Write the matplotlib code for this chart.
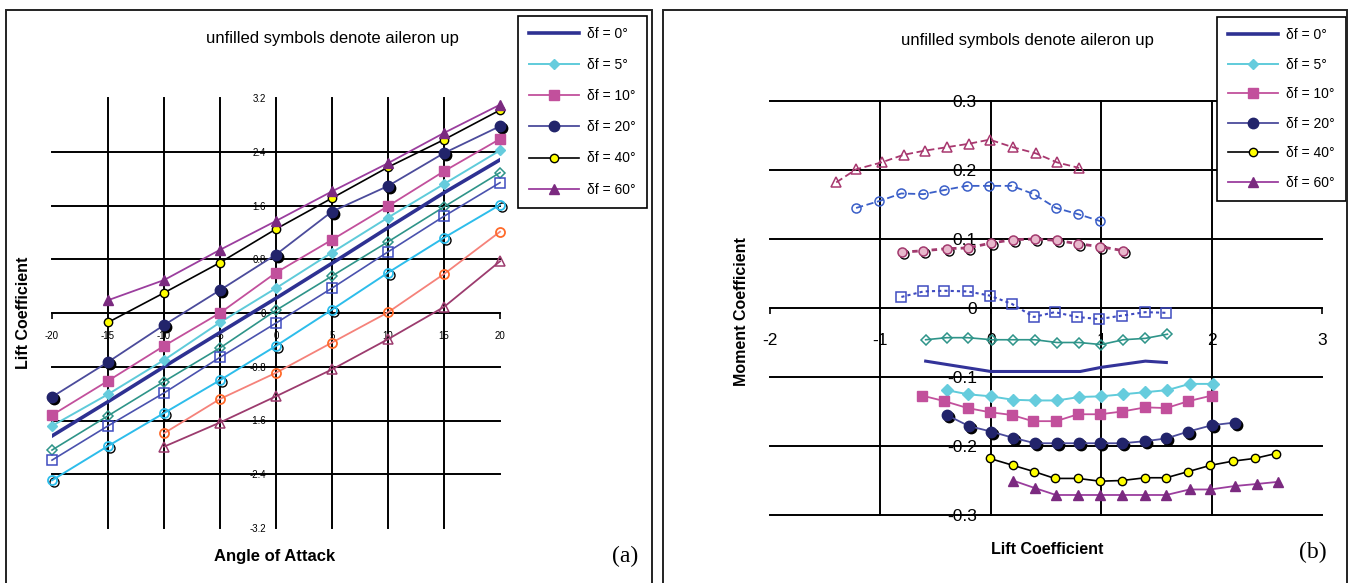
import matplotlib
matplotlib.use("Agg")
import matplotlib.pyplot as plt
from matplotlib.patches import Rectangle
from matplotlib.transforms import offset_copy

plt.rcParams['font.family'] = ['Liberation Sans', 'DejaVu Sans']

# ---------------- data, panel (a): lift coefficient vs angle of attack
alpha = [-20, -15, -10, -5, 0, 5, 10, 15, 20]
alpha_40 = [-15, -10, -5, 0, 5, 10, 15, 20]
alpha_up40 = [-10, -5, 0, 5, 10, 15, 20]

cl_0 = [-1.83, -1.32, -0.80, -0.29, 0.22, 0.74, 1.27, 1.79, 2.28]
cl_5 = [-1.68, -1.21, -0.70, -0.14, 0.37, 0.90, 1.42, 1.92, 2.42]
cl_10 = [-1.52, -1.01, -0.49, 0.00, 0.60, 1.09, 1.59, 2.11, 2.59]
cl_20 = [-1.25, -0.73, -0.18, 0.34, 0.87, 1.51, 1.89, 2.38, 2.78]
cl_40 = [-0.14, 0.30, 0.75, 1.25, 1.71, 2.17, 2.58, 3.02]
cl_60 = [0.19, 0.49, 0.94, 1.37, 1.81, 2.23, 2.68, 3.10]
# aileron up (unfilled)
cl_5u = [-2.04, -1.53, -1.02, -0.52, 0.04, 0.55, 1.06, 1.58, 2.09]
cl_10u = [-2.19, -1.68, -1.19, -0.66, -0.15, 0.37, 0.91, 1.44, 1.94]
cl_20u = [-2.49, -1.98, -1.49, -1.00, -0.49, 0.05, 0.60, 1.12, 1.61]
cl_40u = [-1.79, -1.28, -0.89, -0.44, 0.01, 0.58, 1.21]
cl_60u = [-1.99, -1.63, -1.24, -0.84, -0.39, 0.09, 0.77]

a_xticks = [-20, -15, -10, -5, 0, 5, 10, 15, 20]
a_yticks = [3.2, 2.4, 1.6, 0.8, 0, -0.8, -1.6, -2.4, -3.2]
a_ylabels = ['3.2', '2.4', '1.6', '0.8', '0', '-0.8', '-1.6', '-2.4', '-3.2']

# ---------------- data, panel (b): moment coefficient vs lift coefficient
b0_cl = [-0.59, 0.00, 0.81, 1.00, 1.40, 1.59]
b0_cm = [-0.077, -0.092, -0.092, -0.086, -0.077, -0.079]
b5_cl = [-0.40, -0.21, 0.00, 0.20, 0.40, 0.60, 0.80, 1.00, 1.20, 1.40, 1.60, 1.80, 2.01]
b5_cm = [-0.119, -0.125, -0.128, -0.133, -0.134, -0.134, -0.129, -0.128, -0.125, -0.122, -0.119, -0.110, -0.110]
b10_cl = [-0.62, -0.42, -0.21, -0.01, 0.19, 0.38, 0.59, 0.79, 0.99, 1.19, 1.40, 1.59, 1.79, 2.00]
b10_cm = [-0.127, -0.135, -0.145, -0.151, -0.155, -0.164, -0.164, -0.154, -0.154, -0.150, -0.144, -0.145, -0.135, -0.127]
b20_cl = [-0.40, -0.20, 0.00, 0.20, 0.40, 0.60, 0.80, 0.99, 1.19, 1.40, 1.59, 1.79, 2.00, 2.21]
b20_cm = [-0.155, -0.171, -0.179, -0.188, -0.196, -0.196, -0.196, -0.196, -0.196, -0.193, -0.189, -0.179, -0.170, -0.166]
b40_cl = [-0.01, 0.20, 0.39, 0.58, 0.79, 0.99, 1.19, 1.40, 1.59, 1.79, 1.99, 2.19, 2.39, 2.58]
b40_cm = [-0.218, -0.228, -0.237, -0.247, -0.247, -0.251, -0.250, -0.246, -0.246, -0.237, -0.228, -0.222, -0.218, -0.211]
b60_cl = [0.20, 0.40, 0.59, 0.79, 0.99, 1.19, 1.40, 1.59, 1.80, 1.99, 2.21, 2.41, 2.60]
b60_cm = [-0.250, -0.261, -0.271, -0.271, -0.271, -0.271, -0.271, -0.271, -0.263, -0.263, -0.258, -0.255, -0.252]
# aileron up (unfilled)
b5u_cl = [-0.59, -0.40, -0.21, 0.01, 0.20, 0.40, 0.60, 0.80, 1.00, 1.20, 1.40, 1.60]
b5u_cm = [-0.046, -0.043, -0.043, -0.046, -0.046, -0.046, -0.050, -0.050, -0.053, -0.046, -0.044, -0.038]
b10u_cl = [-0.81, -0.61, -0.42, -0.21, -0.01, 0.19, 0.39, 0.58, 0.78, 0.98, 1.19, 1.40, 1.59]
b10u_cm = [0.016, 0.024, 0.025, 0.024, 0.018, 0.006, -0.013, -0.006, -0.013, -0.016, -0.011, -0.006, -0.007]
b20u_cl = [-1.22, -1.01, -0.81, -0.61, -0.42, -0.22, -0.02, 0.19, 0.39, 0.59, 0.79, 0.99]
b20u_cm = [0.145, 0.155, 0.166, 0.165, 0.171, 0.177, 0.177, 0.177, 0.165, 0.145, 0.136, 0.126]
b40u_cl = [-0.80, -0.61, -0.40, -0.21, 0.00, 0.20, 0.40, 0.60, 0.79, 0.99, 1.20]
b40u_cm = [0.081, 0.083, 0.086, 0.087, 0.094, 0.099, 0.100, 0.098, 0.093, 0.089, 0.083]
b60u_cl = [-1.40, -1.22, -0.99, -0.79, -0.60, -0.40, -0.20, -0.01, 0.20, 0.41, 0.60, 0.80]
b60u_cm = [0.182, 0.201, 0.211, 0.222, 0.228, 0.233, 0.238, 0.244, 0.233, 0.224, 0.211, 0.203]

b_xticks = [-2, -1, 0, 1, 2, 3]
b_yticks = [0.3, 0.2, 0.1, 0, -0.1, -0.2, -0.3]
b_ylabels = ['0.3', '0.2', '0.1', '0', '-0.1', '-0.2', '-0.3']

legend_labels = ['δf = 0°', 'δf = 5°', 'δf = 10°', 'δf = 20°', 'δf = 40°', 'δf = 60°']

W, H = 1354, 583
fig = plt.figure(figsize=(W / 100, H / 100), dpi=100)

# panel frames
for x0, x1 in [(6, 652), (663, 1347)]:
    fig.patches.append(Rectangle((x0 / W, -0.05), (x1 - x0) / W, 1.05 - 10 / H,
                                 transform=fig.transFigure, fill=False,
                                 edgecolor='#222222', lw=1.4))


def setup_axes(ax, xlim, ylim, xgrid, ygrid, xticks, yticks, ylabels, fs, xpad, ypad):
    ax.set_xlim(*xlim)
    ax.set_ylim(*ylim)
    for v in xgrid:
        ax.plot([v, v], ylim, color='black', lw=1.4, zorder=1, clip_on=False)
    for v in ygrid:
        ax.plot(xlim, [v, v], color='black', lw=1.4, zorder=1, clip_on=False)
    ax.spines['left'].set_position(('data', 0))
    ax.spines['bottom'].set_position(('data', 0))
    ax.spines['top'].set_visible(False)
    ax.spines['right'].set_visible(False)
    ax.spines['left'].set_linewidth(1.4)
    ax.spines['bottom'].set_linewidth(1.4)
    ax.set_xticks(xticks)
    ax.set_xticklabels([str(t) for t in xticks])
    ax.set_yticks(yticks)
    ax.set_yticklabels(ylabels)
    ax.tick_params(axis='x', length=4, width=1.2, direction='out', labelsize=fs, pad=xpad)
    ax.tick_params(axis='y', length=0, labelsize=fs, pad=ypad)
    ax.patch.set_visible(False)


# ---------------- panel (a)
ax1 = fig.add_axes([52 / W, 55 / H, 448 / W, 430 / H])
setup_axes(ax1, (-20, 20), (-3.2, 3.2), [-15, -10, -5, 5, 10, 15],
           [2.4, 1.6, 0.8, -0.8, -1.6, -2.4], a_xticks, a_yticks, a_ylabels, 7, 9, 7)
sh1 = offset_copy(ax1.transData, fig=fig, x=2, y=-2, units='dots')

kw = dict(clip_on=False, zorder=3, ms=6.5)
# aileron up
ax1.plot(alpha, cl_5u, '-D', color='#2E9489', mfc='none', mew=1.1, lw=1.2, **dict(kw, ms=5.5))
ax1.plot(alpha, cl_10u, '-s', color='#4A52AE', mec='#3F4BC0', mfc='none', mew=1.1, lw=1.2, **kw)
ax1.plot(alpha, cl_20u, 'o', color='black', mfc='none', mew=1.0, transform=sh1, **dict(kw, zorder=2))
ax1.plot(alpha, cl_20u, '-o', color='#2DBDEB', mfc='none', mew=1.3, lw=1.4, **kw)
ax1.plot(alpha_up40, cl_40u, '-o', color='#F5827A', mec='#FF6A2A', mfc='none', mew=1.3, lw=1.3, **kw)
ax1.plot(alpha_up40, cl_60u, '-^', color='#9C3B6E', mfc='none', mew=1.1, lw=1.3, **kw)
# aileron down
h0, = ax1.plot(alpha, cl_0, '-', color='#2E3192', lw=2.6, zorder=3)
h5, = ax1.plot(alpha, cl_5, '-D', color='#5FCBDA', mfc='#66CCDD', mec='#66CCDD', lw=1.4, **dict(kw, ms=5.5))
h10, = ax1.plot(alpha, cl_10, '-s', color='#C2509C', mfc='#C2509C', mec='#C2509C', lw=1.3, **kw)
ax1.plot(alpha, cl_20, 'o', color='black', transform=sh1, **dict(kw, zorder=2, ms=7.5))
h20, = ax1.plot(alpha, cl_20, '-o', color='#4B4B9B', mfc='#22246B', mec='#22246B', lw=1.3, **dict(kw, ms=7.5))
h40, = ax1.plot(alpha_40, cl_40, '-o', color='black', mfc='#FFFF00', mec='black', lw=1.2, mew=1.0, **dict(kw, ms=6))
h60, = ax1.plot(alpha_40, cl_60, '-^', color='#9B3E9E', mfc='#7B2A80', mec='#7B2A80', lw=1.3, **dict(kw, ms=7.5))
handles = [h0, h5, h10, h20, h40, h60]

leg1 = ax1.legend(handles, legend_labels, loc='upper left', bbox_to_anchor=(518 / W, 1 - 16 / H),
                  bbox_transform=fig.transFigure, borderaxespad=0, fontsize=10, handlelength=3.6,
                  handletextpad=0.6, labelspacing=1.23, borderpad=0.8, fancybox=False,
                  edgecolor='black', framealpha=1)
leg1.get_frame().set_linewidth(1.2)

fig.text(23 / W, 1 - 313 / H, 'Lift Coefficient', rotation=90, ha='center', va='center',
         fontsize=11.5, fontweight='bold')
fig.text(275 / W, 1 - 556 / H, 'Angle of Attack', ha='center', va='center', fontsize=12, fontweight='bold')
fig.text(332 / W, 1 - 39 / H, 'unfilled symbols denote aileron up', ha='center', va='center', fontsize=12)
fig.text(625 / W, 1 - 556 / H, '(a)', ha='center', va='center', fontsize=17,
         family=['Liberation Serif', 'DejaVu Serif'])

# ---------------- panel (b)
ax2 = fig.add_axes([770 / W, 68 / H, 552 / W, 414 / H])
setup_axes(ax2, (-2, 3), (-0.3, 0.3), [-1, 1, 2], [0.3, 0.2, 0.1, -0.1, -0.2, -0.3],
           b_xticks, b_yticks, b_ylabels, 12.5, 14, 10)
sh2 = offset_copy(ax2.transData, fig=fig, x=2, y=-2, units='dots')

ax2.plot(b60u_cl, b60u_cm, '^', color='#A8386F', mfc='none', mew=1.1, ls=(0, (4, 2)), lw=1.3, **kw)
ax2.plot(b20u_cl, b20u_cm, 'o', color='#3B5FC8', mfc='none', mew=1.1, ls=(0, (4, 2)), lw=1.3, **kw)
ax2.plot(b40u_cl, b40u_cm, 'o', color='black', mfc='none', mew=1.0, transform=sh2, **dict(kw, zorder=2))
ax2.plot(b40u_cl, b40u_cm, 'o', color='#A23A6E', mfc='#E8B8CC', mew=1.1, ls=(0, (2, 1.5)), lw=2.0, **kw)
ax2.plot(b10u_cl, b10u_cm, 's', color='#3F4BC0', mfc='none', mew=1.1, ls=(0, (1.5, 1.5)), lw=1.5, **kw)
ax2.plot(b5u_cl, b5u_cm, '-D', color='#2E9489', mfc='none', mew=1.1, lw=1.2, **dict(kw, ms=5.5))

ax2.plot(b0_cl, b0_cm, '-', color='#333399', lw=2.2, zorder=3)
ax2.plot(b5_cl, b5_cm, '-D', color='#5FCBDA', mfc='#66CCDD', mec='#66CCDD', lw=1.4, **dict(kw, ms=6))
ax2.plot(b10_cl, b10_cm, '-s', color='#C2509C', mfc='#C2509C', mec='#C2509C', lw=1.3, **dict(kw, ms=7))
ax2.plot(b20_cl, b20_cm, 'o', color='black', transform=sh2, **dict(kw, zorder=2, ms=7.5))
ax2.plot(b20_cl, b20_cm, '-o', color='#4B4B9B', mfc='#22246B', mec='#22246B', lw=1.3, **dict(kw, ms=7.5))
ax2.plot(b40_cl, b40_cm, '-o', color='black', mfc='#FFFF00', mec='black', lw=1.2, mew=1.0, **dict(kw, ms=6))
ax2.plot(b60_cl, b60_cm, '-^', color='#9B3E9E', mfc='#7B2A80', mec='#7B2A80', lw=1.3, **dict(kw, ms=7.5))

leg2 = ax2.legend(handles, legend_labels, loc='upper left', bbox_to_anchor=(1217 / W, 1 - 17 / H),
                  bbox_transform=fig.transFigure, borderaxespad=0, fontsize=10, handlelength=3.6,
                  handletextpad=0.6, labelspacing=1.12, borderpad=0.8, fancybox=False,
                  edgecolor='black', framealpha=1)
leg2.get_frame().set_linewidth(1.2)

fig.text(741 / W, 1 - 312 / H, 'Moment Coefficient', rotation=90, ha='center', va='center',
         fontsize=11.5, fontweight='bold')
fig.text(1047 / W, 1 - 549 / H, 'Lift Coefficient', ha='center', va='center', fontsize=11.5, fontweight='bold')
fig.text(1027 / W, 1 - 40 / H, 'unfilled symbols denote aileron up', ha='center', va='center', fontsize=12)
fig.text(1313 / W, 1 - 552 / H, '(b)', ha='center', va='center', fontsize=17,
         family=['Liberation Serif', 'DejaVu Serif'])

fig.savefig('out.png', dpi=100)
